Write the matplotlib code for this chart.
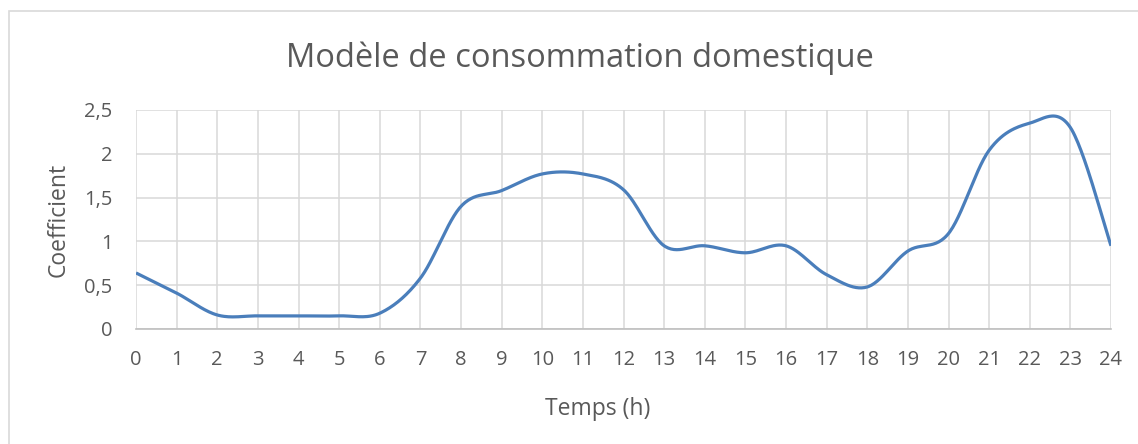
"""
Modèle de consommation domestique : courbe lissée (style Excel)
"""

import numpy as np
from matplotlib import pyplot as plt
from matplotlib.patches import Rectangle

# heures et coefficients
heures = list(range(0, 25))
coeff = [0.64, 0.41, 0.16, 0.15, 0.15, 0.15, 0.18, 0.58, 1.40, 1.58,
         1.77, 1.77, 1.59, 0.95, 0.95, 0.87, 0.95, 0.62, 0.48, 0.89,
         1.09, 2.04, 2.35, 2.30, 0.95]
yticks = [0, 0.5, 1, 1.5, 2, 2.5]
ytick_labels = ["0", "0,5", "1", "1,5", "2", "2,5"]

gris = "#595959"
bleu = "#4a7ebb"


def lissage(x, y, n=30):
    # Catmull-Rom / Bezier, comme la courbe lissée d'Excel
    x = np.asarray(x, float)
    y = np.asarray(y, float)
    px = np.concatenate([[x[0]], x, [x[-1]]])
    py = np.concatenate([[y[0]], y, [y[-1]]])
    xs, ys = [], []
    t = np.linspace(0, 1, n)
    for i in range(1, len(px) - 2):
        p0 = np.array([px[i], py[i]])
        p3 = np.array([px[i + 1], py[i + 1]])
        p1 = p0 + (np.array([px[i + 1], py[i + 1]]) - np.array([px[i - 1], py[i - 1]])) / 6
        p2 = p3 - (np.array([px[i + 2], py[i + 2]]) - np.array([px[i], py[i]])) / 6
        b = ((1 - t) ** 3)[:, None] * p0 + (3 * (1 - t) ** 2 * t)[:, None] * p1 \
            + (3 * (1 - t) * t ** 2)[:, None] * p2 + (t ** 3)[:, None] * p3
        xs.extend(b[:, 0])
        ys.extend(b[:, 1])
    return xs, ys


plt.rcParams["font.family"] = ["Open Sans", "DejaVu Sans"]

fig = plt.figure(figsize=(11.38, 4.44), dpi=100)
# cadre du graphique
fig.patches.append(Rectangle((8.5 / 1138, -0.1), 1.2, (444 - 11) / 444 + 0.1,
                             transform=fig.transFigure, fill=False,
                             edgecolor="#d9d9d9", lw=1.2))

ax = fig.add_axes([136 / 1138, 115 / 444, 975 / 1138, 219 / 444])
xs, ys = lissage(heures, coeff)
ax.plot(xs, ys, color=bleu, lw=2.3, solid_capstyle="butt", zorder=3)

ax.set_xlim(0, 24)
ax.set_ylim(0, 2.5)
ax.set_xticks(heures)
ax.set_xticklabels([str(h) for h in heures])
ax.set_yticks(yticks)
ax.set_yticklabels(ytick_labels)
ax.grid(True, color="#d9d9d9", lw=1.1)
ax.set_axisbelow(True)
for s in ["top", "right", "left"]:
    ax.spines[s].set_visible(False)
ax.spines["bottom"].set_color("#bfbfbf")
ax.spines["bottom"].set_linewidth(1.2)
ax.tick_params(length=0, labelsize=14.5, colors=gris)
ax.tick_params(axis="x", pad=15)
ax.tick_params(axis="y", pad=17)

ax.set_xlabel("Temps (h)", fontsize=16.5, color=gris)
ax.xaxis.set_label_coords(0.474, -0.31)
ax.set_ylabel("Coefficient", fontsize=16.5, color=gris, labelpad=10)
fig.text(580 / 1138, 1 - 67 / 444, "Modèle de consommation domestique",
         ha="center", va="baseline", fontsize=23.5, color=gris)

plt.savefig("out.png", dpi=100)
